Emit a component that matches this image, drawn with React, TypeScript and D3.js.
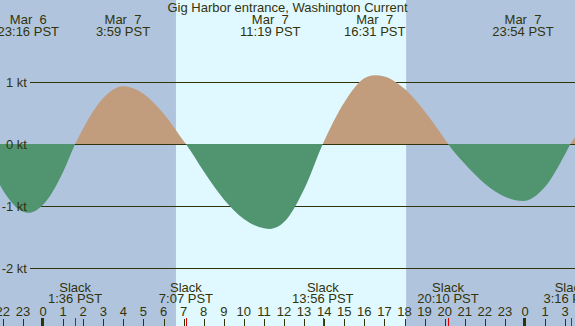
import * as d3 from 'd3';
import React from 'react';

// hours after Mar 7 00:00 PST, current speed in knots (flood +, ebb -)
const hours = [-2.2, -2, -1, -0.733, 0, 1, 1.6, 2, 3, 3.983, 5, 6, 7, 7.117, 8, 9, 10, 11, 11.317, 12, 13, 13.933, 15, 16, 16.517, 17, 18, 19, 20, 20.167, 21, 22, 23, 23.9, 25, 26, 26.267, 26.6];
const knots = [-0.63, -0.74, -1.09, -1.11, -0.98, -0.45, 0, 0.25, 0.74, 0.93, 0.81, 0.49, 0.05, 0, -0.44, -0.89, -1.21, -1.36, -1.37, -1.26, -0.73, 0, 0.67, 1.06, 1.11, 1.09, 0.89, 0.53, 0.08, 0, -0.32, -0.64, -0.85, -0.92, -0.69, -0.16, 0, 0.15];

// max current events
const maxTimes = [-0.733, 3.983, 11.317, 16.517, 23.9];
const maxDates = ['Mar  6', 'Mar  7', 'Mar  7', 'Mar  7', 'Mar  7'];
const maxLabels = ['23:16 PST', '3:59 PST', '11:19 PST', '16:31 PST', '23:54 PST'];

// slack events
const slackTimes = [1.6, 7.117, 13.933, 20.167, 26.267];
const slackLabels = ['1:36 PST', '7:07 PST', '13:56 PST', '20:10 PST', '3:16 PST'];

// sunrise / sunset
const sunrise = 6.62;
const sunset = 18.08;

const hourTicks = [-2, -1, 0, 1, 2, 3, 4, 5, 6, 7, 8, 9, 10, 11, 12, 13, 14, 15, 16, 17, 18, 19, 20, 21, 22, 23, 24, 25, 26];
const hourLabels = ['22', '23', '0', '1', '2', '3', '4', '5', '6', '7', '8', '9', '10', '11', '12', '13', '14', '15', '16', '17', '18', '19', '20', '21', '22', '23', '0', '1', '3'];
const midnights = [0, 24];

const ktTicks = [1, 0, -1, -2];
const ktLabels = ['1 kt', '0 kt', '-1 kt', '-2 kt'];

const W = 575;
const H = 326;
const ink = '#33330a';
const font = '"Liberation Sans", Arial, sans-serif';

export default function App() {
  const x = d3.scaleLinear().domain([0, 24]).range([43, 525]);
  const y = d3.scaleLinear().domain([0, 1]).range([144, 82]);
  const y0 = y(0);

  const pts = hours.map((h, i) => [h, knots[i]] as [number, number]);
  const area = d3.area<[number, number]>()
    .x(d => x(d[0]))
    .y0(y0)
    .y1(d => y(d[1]))
    .curve(d3.curveMonotoneX);

  return (
    <div style={{ position: 'absolute', left: 0, top: 0 }}>
      <svg width={W} height={H} style={{ display: 'block', fontFamily: font }}>
        <defs>
          <clipPath id="above"><rect x={0} y={0} width={W} height={y0} /></clipPath>
          <clipPath id="below"><rect x={0} y={y0} width={W} height={H - y0} /></clipPath>
        </defs>

        {/* night / day backgrounds */}
        <rect x={0} y={0} width={W} height={H} fill="#b0c4de" />
        <rect x={x(sunrise)} y={0} width={x(sunset) - x(sunrise)} height={H} fill="#e0f8ff" />

        {/* grid lines */}
        {ktTicks.map(k => (
          <line key={k} x1={30} x2={W} y1={y(k) + 0.5} y2={y(k) + 0.5} stroke={ink} strokeWidth={1} />
        ))}

        {/* flood / ebb fills */}
        <path d={area(pts) || ''} fill="#c19c7d" clipPath="url(#above)" />
        <path d={area(pts) || ''} fill="#509470" clipPath="url(#below)" />

        {/* knot labels */}
        {ktTicks.map((k, i) => (
          <text key={k} x={27} y={y(k)} textAnchor="end" dominantBaseline="central" fontSize={13} fill={ink}>{ktLabels[i]}</text>
        ))}

        {/* title */}
        <text x={W / 2} y={12} textAnchor="middle" fontSize={13} fill={ink}>Gig Harbor entrance, Washington Current</text>

        {/* max current labels */}
        {maxTimes.map((t, i) => (
          <g key={t} fontSize={13} fill={ink} textAnchor="middle">
            <text x={x(t)} y={24} xmlSpace="preserve">{maxDates[i]}</text>
            <text x={x(t)} y={36}>{maxLabels[i]}</text>
          </g>
        ))}

        {/* slack labels */}
        {slackTimes.map((t, i) => (
          <g key={t} fontSize={13} fill={ink} textAnchor="middle">
            <text x={x(t)} y={292}>Slack</text>
            <text x={x(t)} y={303}>{slackLabels[i]}</text>
          </g>
        ))}

        {/* hour ticks */}
        {hourTicks.map((h, i) => (
          <g key={h}>
            <text x={x(h)} y={316} textAnchor="middle" fontSize={13} fill={ink}>{hourLabels[i]}</text>
            {midnights.includes(h)
              ? <rect x={Math.round(x(h)) - 2} y={318} width={3} height={8} fill={ink} />
              : <line x1={Math.round(x(h)) + 0.5} x2={Math.round(x(h)) + 0.5} y1={319} y2={H} stroke={ink} />}
          </g>
        ))}
        {slackTimes.map(t => (
          <line key={t} x1={Math.round(x(t)) + 0.5} x2={Math.round(x(t)) + 0.5} y1={318} y2={H} stroke="#e00000" />
        ))}
      </svg>
    </div>
  );
}
